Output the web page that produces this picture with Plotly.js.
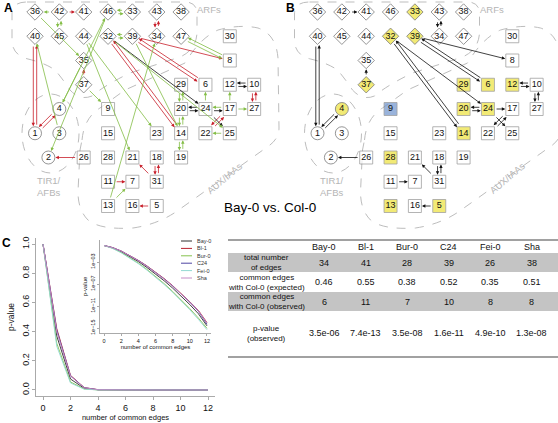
<!DOCTYPE html>
<html><head><meta charset="utf-8">
<script src="https://cdn.plot.ly/plotly-3.0.1.min.js"></script>
<style>html,body{margin:0;padding:0;background:#fff}#chart{width:558px;height:423px}</style>
</head><body><div id="chart"></div>
<script>
const FONT = 'Liberation Sans, Arial, Helvetica, sans-serif';

// ---------- network nodes ----------
const nodeIds  = [36,42,41,46,33,43,38, 40,45,44,32,39,34,47, 35,37, 4,1,3,2, 30,8,29,6,12,10,9,20,24,17,27,15,23,14,22,25,26,28,21,18,19,11,7,31,13,16,5];
const nodeKind = ['d','d','d','d','d','d','d','d','d','d','d','d','d','d','d','d','c','c','c','c','s','s','s','s','s','s','s','s','s','s','s','s','s','s','s','s','s','s','s','s','s','s','s','s','s','s','s'];
const nodeCol  = [0,1,2,3,4,5,6, 0,1,2,3,4,5,6, 2,2, 1,0,1,0.55, 8,8,6,7,8,9,3,6,7,8,9,3,5,6,7,8,2,3,4,5,6,3,4,5,3,4,5];
const nodeRow  = [0,0,0,0,0,0,0, 1,1,1,1,1,1,1, 2,3, 4,5,5,6, 1,2,3,3,3,3,4,4,4,4,4,5,5,5,5,5,6,6,6,6,6,7,7,7,8,8,8];

// panel B highlighting
const yellowNodes = [4,5,6,12,13,14,20,24,28,29,32,33,37,39];
const blueNodes = [9];

// ---------- edges (A: red = Bay-0 only, green = Col-0 only, black = common) ----------
const edgeFrom = [42,43,34,40,1,1,4,39,39,6,32,14,10,27,17,22,37,26,11,31,31,18,5,
                  12,10,20,24,24,32,24,
                  42,42,45,46,33,32,39,47,8,36,37,4,46,35,3,44,44,13,13,32,39,29,20,20,14,14,19,24,17,17,17,25];
const edgeTo   = [41,34,43,1,40,4,1,8,6,39,14,32,27,10,22,17,35,2,7,21,18,31,16,
                  10,12,24,20,17,24,25,
                  36,45,42,33,46,39,32,8,47,35,9,46,2,4,40,23,21,34,7,25,14,20,29,14,20,19,14,6,12,27,24,22];
const edgeType = [].concat(Array(23).fill('Bay-0'), Array(7).fill('common'), Array(32).fill('Col-0'));

// ---------- panel C data ----------
const commonEdges = [0,1,2,3,4,5,6,7,8,9,10,11,12];
const seriesNames = ['Bay-0','Bl-1','Bur-0','C24','Fei-0','Sha'];
const seriesColors = ['#2e2e2e','#b8202e','#86c24f','#4f45a3','#92d9d2','#c58cc6'];
const pBay0 = [1,0.37,0.075,0.011,1.2e-3,1.0e-4,7e-6,4e-7,1.8e-8,6.5e-10,1.8e-11,4e-13,2.5e-15];
const pBl1  = [1,0.42,0.10,0.016,2.0e-3,2.0e-4,1.6e-5,1.0e-6,5e-8,2e-9,6e-11,1.6e-12,1e-14];
const pBur0 = [1,0.32,0.055,0.0068,6.3e-4,4.5e-5,2.6e-6,1.2e-7,4.5e-9,1.4e-10,3.4e-12,6.5e-14,9e-16];
const pC24  = [1,0.41,0.097,0.0155,1.85e-3,1.75e-4,1.35e-5,8.5e-7,4.2e-8,1.6e-9,4.8e-11,1.1e-12,5e-15];
const pFei0 = [1,0.30,0.048,0.0056,5e-4,3.4e-5,1.9e-6,8.5e-8,3.1e-9,9e-11,2.1e-12,3.8e-14,5e-16];
const pSha  = [1,0.40,0.095,0.015,1.8e-3,1.7e-4,1.3e-5,8e-7,4e-8,1.6e-9,5e-11,1.3e-12,8e-15];
const seriesValues = [pBay0,pBl1,pBur0,pC24,pFei0,pSha];

// ---------- table ----------
const accessions = ['Bay-0','Bl-1','Bur-0','C24','Fei-0','Sha'];
const totalEdges = [34,41,28,39,26,38];
const expectedCommon = [0.46,0.55,0.38,0.52,0.35,0.51];
const observedCommon = [6,11,7,10,8,8];
const pObserved = [3.5e-6,7.4e-13,3.5e-8,1.6e-11,4.9e-10,1.3e-8];
const rowLabels = ['total number<br>of edges','common edges<br>with Col-0 (expected)','common edges<br>with Col-0 (observed)','p-value<br>(observed)'];

// ================= build =================
const OFFB = 282.5;
const pos = {};
nodeIds.forEach((id,i)=>{ pos[id] = {x:35+24.35*nodeCol[i], y:12+24.25*nodeRow[i], k:nodeKind[i]}; });

const traces = [];
const annotations = [];
const shapes = [];

function nodeTrace(dx, panelB){
  const x=[],y=[],t=[],sym=[],sz=[],fill=[],lc=[];
  nodeIds.forEach(id=>{
    const p=pos[id];
    x.push(p.x+dx); y.push(p.y); t.push(String(id));
    sym.push(p.k==='d'?'diamond':(p.k==='s'?'square':'circle'));
    sz.push(p.k==='d'?12.6:13);
    let f='#ffffff';
    if(panelB && yellowNodes.includes(id)) f='#ede23c';
    if(panelB && blueNodes.includes(id)) f='#6f94cc';
    fill.push(f);
    lc.push(p.k==='s'?'#7a7a7a':'#444');
  });
  return {type:'scatter',mode:'markers+text',x:x,y:y,text:t,textposition:'middle center',
    textfont:{family:FONT,size:9,color:'#111'},
    marker:{symbol:sym,size:sz,color:fill,line:{color:lc,width:0.8}},
    xaxis:'x',yaxis:'y',hoverinfo:'skip',cliponaxis:false};
}

function bnd(k,dx,dy){
  const L=Math.hypot(dx,dy), c=Math.abs(dx)/L, s=Math.abs(dy)/L;
  if(k==='s') return 6.5/Math.max(c,s);
  if(k==='d') return 8.2/(c+s);
  return 6.5;
}

const edgeColor = {'Bay-0':'#c81f2b','Col-0':'#83bd45','common':'#111'};
function addEdges(dx, panelB){
  const keys = new Set();
  edgeFrom.forEach((a,i)=>{ if(!panelB || edgeType[i]!=='Col-0') keys.add(a+'>'+edgeTo[i]); });
  edgeFrom.forEach((a,i)=>{
    const b=edgeTo[i];
    if(panelB && edgeType[i]==='Col-0') return;
    const p0=pos[a], p1=pos[b];
    let x0=p0.x+dx,y0=p0.y,x1=p1.x+dx,y1=p1.y;
    const ddx=x1-x0, ddy=y1-y0, L=Math.hypot(ddx,ddy);
    if(keys.has(b+'>'+a)){
      const o=1.7, nx=-ddy/L*o, ny=ddx/L*o;
      x0+=nx; y0+=ny; x1+=nx; y1+=ny;
    }
    annotations.push({x:x1,y:y1,ax:x0,ay:y0,xref:'x',yref:'y',axref:'x',ayref:'y',text:'',
      showarrow:true,arrowhead:2,arrowsize:0.85,arrowwidth:0.8,
      arrowcolor: panelB ? '#111' : edgeColor[edgeType[i]],
      standoff:bnd(p1.k,ddx,ddy)+0.6, startstandoff:bnd(p0.k,ddx,ddy)+0.6});
  });
}

function tr(path,dx){ return path.replace(/(-?\d+\.?\d*),(-?\d+\.?\d*)/g,(m,a,b)=>(parseFloat(a)+dx).toFixed(1)+','+b); }
const arfPath = 'M27,2 L185,2 Q197,2 197,14 L197,33 Q196,50 180,57 L130,73 Q105,85 92,96 Q80,101 70,90 Q62,78 55,70 Q45,63 28,59 Q12,55 12,40 L12,14 Q12,2 27,2 Z';
const auxPath = 'M82,140 Q84,118 100,108 L125,90 L185,63 Q200,38 218,30 Q240,24 258,28 Q276,34 278,58 L279,128 Q279,138 270,145 L180,209 Q160,224 133,228 Q100,230 88,220 Q78,210 78,192 L80,150 Z';
const grp = {color:'#bdbdbd',width:1,dash:'dash'};
[0,OFFB].forEach(dx=>{
  shapes.push({type:'path',path:tr(arfPath,dx),xref:'x',yref:'y',line:grp,layer:'below'});
  shapes.push({type:'path',path:tr(auxPath,dx),xref:'x',yref:'y',line:grp,layer:'below'});
  shapes.push({type:'circle',x0:22+dx,x1:79+dx,y0:94,y1:173,xref:'x',yref:'y',line:grp,layer:'below'});
  const gf={family:FONT,size:9.5,color:'#b5b5b5'};
  annotations.push({x:209+dx,y:9,xref:'x',yref:'y',text:'ARFs',showarrow:false,font:gf});
  annotations.push({x:49+dx,y:186,xref:'x',yref:'y',text:'TIR1/<br>AFBs',showarrow:false,font:gf});
  annotations.push({x:224+dx,y:178,xref:'x',yref:'y',text:'AUX/IAAs',showarrow:false,font:gf,textangle:-40});
});

addEdges(0,false);
addEdges(OFFB,true);
traces.push(nodeTrace(0,false));
traces.push(nodeTrace(OFFB,true));

// panel letters + title
[['A',8,8],['B',290,8],['C',6,243]].forEach(l=>{
  annotations.push({x:l[1],y:l[2],xref:'x',yref:'y',text:'<b>'+l[0]+'</b>',showarrow:false,font:{family:FONT,size:12,color:'#000'}});
});
annotations.push({x:270,y:207,xref:'x',yref:'y',text:'Bay-0 vs. Col-0',showarrow:false,font:{family:FONT,size:13.5,color:'#000'}});

// panel C lines
seriesNames.forEach((n,i)=>{
  traces.push({type:'scatter',mode:'lines',x:commonEdges,y:seriesValues[i],name:n,xaxis:'x2',yaxis:'y2',
    line:{color:seriesColors[i],width:0.9},hoverinfo:'skip'});
  traces.push({type:'scatter',mode:'lines',x:commonEdges,y:seriesValues[i],name:n,xaxis:'x3',yaxis:'y3',
    line:{color:seriesColors[i],width:0.9},hoverinfo:'skip',showlegend:false});
  const ly=241+7.4*i;
  shapes.push({type:'line',xref:'x',yref:'y',x0:181,x1:192,y0:ly,y1:ly,line:{color:seriesColors[i],width:1}});
  annotations.push({x:195,y:ly,xref:'x',yref:'y',text:n,showarrow:false,xanchor:'left',font:{family:FONT,size:5.5,color:'#333'}});
});

// table
const colX = [324,365.5,407,448.5,490,531.5];
const rowY = [262.7,282,301.5,333];
shapes.push({type:'rect',xref:'x',yref:'y',x0:228,x1:558,y0:253,y1:272,fillcolor:'#c4c4c4',line:{width:0},layer:'below'});
shapes.push({type:'rect',xref:'x',yref:'y',x0:228,x1:558,y0:292,y1:311,fillcolor:'#c4c4c4',line:{width:0},layer:'below'});
shapes.push({type:'line',xref:'x',yref:'y',x0:228,x1:558,y0:240,y1:240,line:{color:'#444',width:1.2}});
shapes.push({type:'line',xref:'x',yref:'y',x0:228,x1:558,y0:357,y1:357,line:{color:'#444',width:1.2}});
const tf={family:FONT,size:9,color:'#111'};
function fmtE(v){ return v.toExponential(1).replace(/e([+-])(\d)$/,'e$10$2'); }
accessions.forEach((a,j)=>{
  annotations.push({x:colX[j],y:246.5,xref:'x',yref:'y',text:a,showarrow:false,font:tf});
  annotations.push({x:colX[j],y:rowY[0],xref:'x',yref:'y',text:String(totalEdges[j]),showarrow:false,font:tf});
  annotations.push({x:colX[j],y:rowY[1],xref:'x',yref:'y',text:expectedCommon[j].toFixed(2),showarrow:false,font:tf});
  annotations.push({x:colX[j],y:rowY[2],xref:'x',yref:'y',text:String(observedCommon[j]),showarrow:false,font:tf});
  annotations.push({x:colX[j],y:rowY[3],xref:'x',yref:'y',text:fmtE(pObserved[j]),showarrow:false,font:tf});
});
rowLabels.forEach((r,i)=>{
  annotations.push({x:266,y:rowY[i],xref:'x',yref:'y',text:r,showarrow:false,font:{family:FONT,size:8,color:'#111'}});
});

const axC = {showgrid:false,zeroline:false,showline:true,linecolor:'#aaa',linewidth:1,ticks:'outside',tickcolor:'#aaa',tickwidth:1,fixedrange:true,color:'#111'};
const layout = {
  width:558,height:423,margin:{l:0,r:0,t:0,b:0},paper_bgcolor:'#fff',plot_bgcolor:'rgba(0,0,0,0)',
  showlegend:false,font:{family:FONT,color:'#111'},
  xaxis:{domain:[0,1],range:[0,558],visible:false,fixedrange:true},
  yaxis:{domain:[0,1],range:[423,0],visible:false,fixedrange:true},
  xaxis2:Object.assign({},axC,{domain:[36.4/558,214.6/558],anchor:'y2',range:[-0.48,12.48],tickvals:[0,2,4,6,8,10,12],ticklen:3,
    tickfont:{size:9},title:{text:'number of common edges',font:{size:7.5},standoff:3}}),
  yaxis2:Object.assign({},axC,{domain:[1-395.8/423,1-238.2/423],anchor:'x2',range:[-0.04,1.04],tickvals:[0,0.2,0.4,0.6,0.8,1],tickformat:'.1f',
    ticklen:3,tickangle:-90,tickfont:{size:9},title:{text:'p-value',font:{size:8.5},standoff:4}}),
  xaxis3:Object.assign({},axC,{domain:[99.9/558,211.1/558],anchor:'y3',range:[-0.48,12.48],tickvals:[0,2,4,6,8,10,12],ticklen:2,
    tickfont:{size:5.5},title:{text:'number of common edges',font:{size:6},standoff:1}}),
  yaxis3:Object.assign({},axC,{domain:[1-333/423,1-240/423],anchor:'x3',type:'log',range:[-15.9,1.0],
    tickvals:[1e-3,1e-7,1e-11,1e-15],ticktext:['1e\u221203','1e\u221207','1e\u221211','1e\u221215'],ticklen:2,tickangle:-90,
    tickfont:{size:5.5},title:{text:'p-value',font:{size:6},standoff:1}}),
  shapes:shapes,annotations:annotations
};
Plotly.newPlot('chart',traces,layout,{staticPlot:true,displayModeBar:false});
</script></body></html>
